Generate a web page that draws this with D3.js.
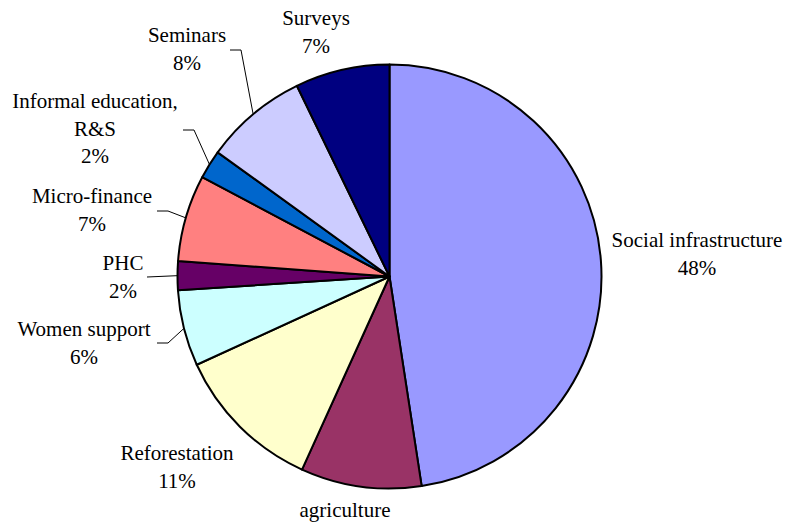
<!DOCTYPE html>
<html>
<head>
<meta charset="utf-8">
<script src="https://cdn.jsdelivr.net/npm/d3@7"></script>
</head>
<body style="margin:0;background:#fff;font-family:'Liberation Serif',serif">
<div id="chart"></div>
<script>
// slice data, clockwise from 12 o'clock
var categories = ["Social infrastructure", "agriculture", "Reforestation", "Women support", "PHC",
                  "Micro-finance", "Informal education,\nR&S", "Seminars", "Surveys"];
var values = [47.6, 9.2, 11.4, 5.8, 2.2, 6.6, 2.2, 7.85, 7.2];
var colors = ["#9999ff", "#993366", "#ffffcc", "#ccffff", "#660066",
              "#ff8080", "#0066cc", "#ccccff", "#000080"];

// label layout (center x, first baseline) and leader line start/knee
var labelPos = [
  { x: 697, y: 247 },
  { x: 345, y: 517, noPct: true },   // its percentage falls below the picture in the original
  { x: 177, y: 460 },
  { x: 84,  y: 336, lead: [157, 343, 168] },
  { x: 123, y: 270, lead: [147, 277, 147] },
  { x: 92,  y: 203, lead: [157, 211, 168] },
  { x: 95,  y: 108, lead: [183, 130, 194] },
  { x: 187, y: 42,  lead: [230, 50, 241] },
  { x: 316, y: 25 }
];

var width = 788, height = 529;
var cx = 389.5, cy = 276.5, radius = 212;
var lineH = 27.5;
var serif = "'Liberation Serif', 'Times New Roman', Tinos, serif";

var svg = d3.select("#chart").append("svg")
    .attr("width", width)
    .attr("height", height)
    .attr("font-family", serif)
    .style("font-family", serif);

var total = d3.sum(values);
var rows = categories.map(function (c, i) { return { name: c, value: values[i], i: i }; });

var pie = d3.pie().sort(null).value(function (d) { return d.value; });
var arc = d3.arc().innerRadius(0).outerRadius(radius);
var arcs = pie(rows);

var g = svg.append("g").attr("transform", "translate(" + cx + "," + cy + ")");

g.selectAll("path.slice")
    .data(arcs)
    .enter().append("path")
    .attr("class", "slice")
    .attr("d", arc)
    .attr("fill", function (d) { return colors[d.data.i]; })
    .attr("stroke", "#000")
    .attr("stroke-width", 2)
    .attr("stroke-linejoin", "round");

// leader lines
arcs.forEach(function (d) {
  var p = labelPos[d.data.i];
  if (!p.lead) return;
  var mid = (d.startAngle + d.endAngle) / 2;
  var ex = cx + radius * Math.sin(mid);
  var ey = cy - radius * Math.cos(mid);
  svg.append("polyline")
      .attr("points", [[p.lead[0], p.lead[1]], [p.lead[2], p.lead[1]], [ex, ey]].join(" "))
      .attr("fill", "none")
      .attr("stroke", "#000")
      .attr("stroke-width", 1);
});

// labels
arcs.forEach(function (d) {
  var p = labelPos[d.data.i];
  var lines = d.data.name.split("\n");
  if (!p.noPct) lines.push(Math.round(d.data.value / total * 100) + "%");
  var t = svg.append("text")
      .attr("text-anchor", "middle")
      .attr("font-family", serif)
      .attr("font-size", 21)
      .style("font-family", serif);
  lines.forEach(function (s, k) {
    t.append("tspan")
        .attr("x", p.x)
        .attr("y", p.y + k * lineH)
        .attr("font-family", serif)
        .text(s);
  });
});
</script>
</body>
</html>
